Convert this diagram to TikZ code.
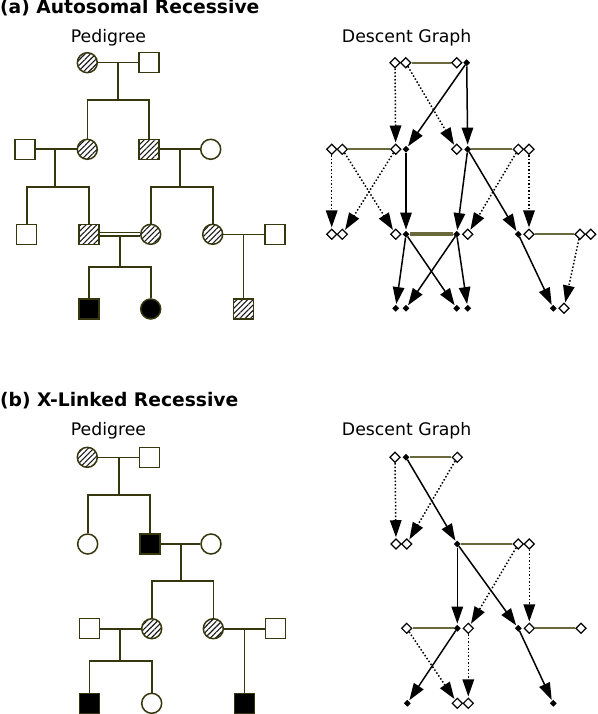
\documentclass[tikz,border=0pt]{standalone}
\usepackage{fontspec}
\setmainfont{DejaVu Sans}
\usetikzlibrary{arrows.meta,shapes.geometric,patterns.meta}
\definecolor{ped}{RGB}{55,55,15}
\definecolor{mar}{RGB}{105,105,60}
\tikzset{
 pline/.style={draw=ped,line width=1.6pt},
 male/.style={rectangle,draw=ped,line width=1.5pt,minimum size=20pt,inner sep=0pt,fill=white},
 female/.style={circle,draw=ped,line width=1.5pt,minimum size=20pt,inner sep=0pt,fill=white},
 carrier/.style={pattern={Lines[angle=45,distance=3.8pt,line width=1.1pt]},pattern color=black!90},
 affected/.style={fill=black},
 oal/.style={diamond,draw=black,line width=1.2pt,fill=white,minimum size=10.5pt,inner sep=0pt},
 fal/.style={diamond,fill=black,minimum size=7pt,inner sep=0pt},
 inh/.style={-{Triangle[length=17pt,width=11.5pt]},line width=1.5pt,draw=black,shorten >=1pt},
 dinh/.style={inh,dotted},
 dmar/.style={draw=mar,line width=2.3pt},
 dmar2/.style={draw=mar,line width=4pt},
 ttl/.style={font=\bfseries\fontsize{18.7}{20}\selectfont,anchor=base west,inner sep=0pt},
 sub/.style={font=\fontsize{17.3}{19}\selectfont,anchor=base,inner sep=0pt}
}
\begin{document}
\begin{tikzpicture}[x=1pt,y=-1pt]
\useasboundingbox (0,0) rectangle (597,714);

% ---------- titles ----------
\node[ttl] (ta) at (0,14) {(a) Autosomal Recessive};
\node[sub] (pa) at (108.5,42.5) {Pedigree};
\node[sub] (ga) at (406.7,42.5) {Descent Graph};
\node[ttl] (tb) at (0,406) {(b) X-Linked Recessive};
\node[sub] (pb) at (108.5,435) {Pedigree};
\node[sub] (gb) at (406.7,435) {Descent Graph};

% ---------- pedigree (a) ----------
\node[female,carrier] (a11) at (87.3,62.7) {};
\node[male] (a12) at (149,62.7) {};
\node[male] (a21) at (25,149.3) {};
\node[female,carrier] (a22) at (87.3,149.3) {};
\node[male,carrier] (a23) at (149,149.3) {};
\node[female] (a24) at (210.7,149.3) {};
\node[male] (a31) at (26.7,234.3) {};
\node[male,carrier] (a32) at (89,234.3) {};
\node[female,carrier] (a33) at (150.7,234.3) {};
\node[female,carrier] (a34) at (212.7,234.3) {};
\node[male] (a35) at (275,234.3) {};
\node[male,affected] (a41) at (89,309) {};
\node[female,affected] (a42) at (150.7,309) {};
\node[male,carrier] (a43) at (243.3,309) {};

\coordinate (am1) at (117.7,62.7);
\coordinate (as1) at (117.7,100);
\coordinate (am2) at (55,149.3);
\coordinate (as2) at (55,186.7);
\coordinate (am3) at (180,149.3);
\coordinate (as3) at (180,186.7);
\coordinate (am4) at (120,236.5);
\coordinate (as4) at (120,266.7);
\coordinate (am5) at (243.3,234.3);

\draw[pline] (a11) -- (a12);
\draw[pline] (am1) -- (as1);
\draw[pline] (a22.north) |- (as1) -| (a23.north);
\draw[pline] (a21) -- (a22);
\draw[pline] (am2) -- (as2);
\draw[pline] (a31.north) |- (as2) -| (a32.north);
\draw[pline] (a23) -- (a24);
\draw[pline] (am3) -- (as3);
\draw[pline] (a33.north) |- (as3) -| (a34.north);
\draw[pline] (am4) -- (as4);
\draw[pline] (a41.north) |- (as4) -| (a42.north);
\draw[draw=ped,line width=1.3pt,double=white,double distance=2.2pt] (a32) -- (a33);
\draw[pline] (a34) -- (a35);
\draw[pline] (am5) -- (a43);

% ---------- descent graph (a) ----------
\node[oal] (d11a) at (395,62.7) {};
\node[oal] (d11b) at (405.7,62.7) {};
\node[oal] (d12a) at (456.7,62.7) {};
\node[fal] (d12b) at (466.7,62.7) {};

\node[oal] (d21a) at (331.7,149.3) {};
\node[oal] (d21b) at (342.3,149.3) {};
\node[oal] (d22a) at (395.7,149.3) {};
\node[fal] (d22b) at (406,149.3) {};
\node[oal] (d23a) at (456.7,149.3) {};
\node[fal] (d23b) at (467.7,149.3) {};
\node[oal] (d24a) at (518.3,149.3) {};
\node[oal] (d24b) at (529,149.3) {};

\node[oal] (d31a) at (331.7,234.3) {};
\node[oal] (d31b) at (342.3,234.3) {};
\node[oal] (d32a) at (395.7,234.3) {};
\node[fal] (d32b) at (406,234.3) {};
\node[fal] (d33a) at (456.7,234.3) {};
\node[oal] (d33b) at (467.7,234.3) {};
\node[fal] (d34a) at (518.3,234.3) {};
\node[oal] (d34b) at (529,234.3) {};
\node[oal] (d35a) at (580,234.3) {};
\node[oal] (d35b) at (590.7,234.3) {};

\node[fal] (d41a) at (395.7,308.3) {};
\node[fal] (d41b) at (406,308.3) {};
\node[fal] (d42a) at (456.7,308.3) {};
\node[fal] (d42b) at (467.7,308.3) {};
\node[fal] (d43a) at (553.3,308.3) {};
\node[oal] (d43b) at (564,308.3) {};

\draw[dmar] (d11b) -- (d12a);
\draw[dmar] (d21b) -- (d22a);
\draw[dmar] (d23b) -- (d24a);
\draw[dmar2] (d32b) -- (d33a);
\draw[dmar] (d34b) -- (d35a);

\draw[dinh] (d11a) -- (d22a);
\draw[dinh] (d11b) -- (d23a);
\draw[inh] (d12b) -- (d22b);
\draw[inh] (d12b) -- (d23b);

\draw[dinh] (d21a) -- (d31a);
\draw[dinh] (d21b) -- (d32a);
\draw[dinh] (d22a) -- (d31b);
\draw[inh] (d22b) -- (d32b);
\draw[inh] (d23b) -- (d33a);
\draw[inh] (d23b) -- (d34a);
\draw[dinh] (d24a) -- (d33b);
\draw[dinh] (d24b) -- (d34b);

\draw[inh] (d32b) -- (d41a);
\draw[inh] (d32b) -- (d42a);
\draw[inh] (d33a) -- (d41b);
\draw[inh] (d33a) -- (d42b);
\draw[inh] (d34a) -- (d43a);
\draw[dinh] (d35a) -- (d43b);

% ---------- pedigree (b) ----------
\node[female,carrier] (b11) at (87.3,457.3) {};
\node[male] (b12) at (149.7,457.3) {};
\node[female] (b21) at (87.7,544) {};
\node[male,affected] (b22) at (150,544) {};
\node[female] (b23) at (211,544) {};
\node[male] (b31) at (89.3,628.7) {};
\node[female,carrier] (b32) at (151.7,628.7) {};
\node[female,carrier] (b33) at (213.3,628.7) {};
\node[male] (b34) at (275.7,628.7) {};
\node[male,affected] (b41) at (89.3,703.3) {};
\node[female] (b42) at (151.7,703.3) {};
\node[male,affected] (b43) at (244.3,703.3) {};

\coordinate (bm1) at (119,457.3);
\coordinate (bs1) at (119,495);
\coordinate (bm2) at (181,544);
\coordinate (bs2) at (181,581);
\coordinate (bm3) at (120,628.7);
\coordinate (bs3) at (120,661);
\coordinate (bm4) at (244.3,628.7);

\draw[pline] (b11) -- (b12);
\draw[pline] (bm1) -- (bs1);
\draw[pline] (b21.north) |- (bs1) -| (b22.north);
\draw[pline] (b22) -- (b23);
\draw[pline] (bm2) -- (bs2);
\draw[pline] (b32.north) |- (bs2) -| (b33.north);
\draw[pline] (b31) -- (b32);
\draw[pline] (bm3) -- (bs3);
\draw[pline] (b41.north) |- (bs3) -| (b42.north);
\draw[pline] (b33) -- (b34);
\draw[pline] (bm4) -- (b43);

% ---------- descent graph (b) ----------
\node[oal] (e11a) at (395,457.3) {};
\node[fal] (e11b) at (406,457.3) {};
\node[oal] (e12) at (457.3,457.3) {};

\node[oal] (e21a) at (396,544) {};
\node[oal] (e21b) at (406.7,544) {};
\node[fal] (e22) at (457.3,544) {};
\node[oal] (e23a) at (518.3,544) {};
\node[oal] (e23b) at (529.3,544) {};

\node[oal] (e31) at (406.7,628.3) {};
\node[fal] (e32a) at (457.3,628.3) {};
\node[oal] (e32b) at (468.3,628.3) {};
\node[fal] (e33a) at (518.3,628.3) {};
\node[oal] (e33b) at (529.3,628.3) {};
\node[oal] (e34) at (581,628.3) {};

\node[fal] (e41) at (407.3,703.3) {};
\node[oal] (e42a) at (457.3,703.3) {};
\node[oal] (e42b) at (468.3,703.3) {};
\node[fal] (e43) at (553.3,703.3) {};

\draw[dmar] (e11b) -- (e12);
\draw[dmar] (e22) -- (e23a);
\draw[dmar] (e31) -- (e32a);
\draw[dmar] (e33b) -- (e34);

\draw[dinh] (e11a) -- (e21a);
\draw[dinh] (e12) -- (e21b);
\draw[inh] (e11b) -- (e22);

\draw[inh] (e22) -- (e32a);
\draw[inh] (e22) -- (e33a);
\draw[dinh] (e23a) -- (e32b);
\draw[dinh] (e23b) -- (e33b);

\draw[inh] (e32a) -- (e41);
\draw[dinh] (e31) -- (e42a);
\draw[dinh] (e32b) -- (e42b);
\draw[inh] (e33a) -- (e43);
\end{tikzpicture}
\end{document}
